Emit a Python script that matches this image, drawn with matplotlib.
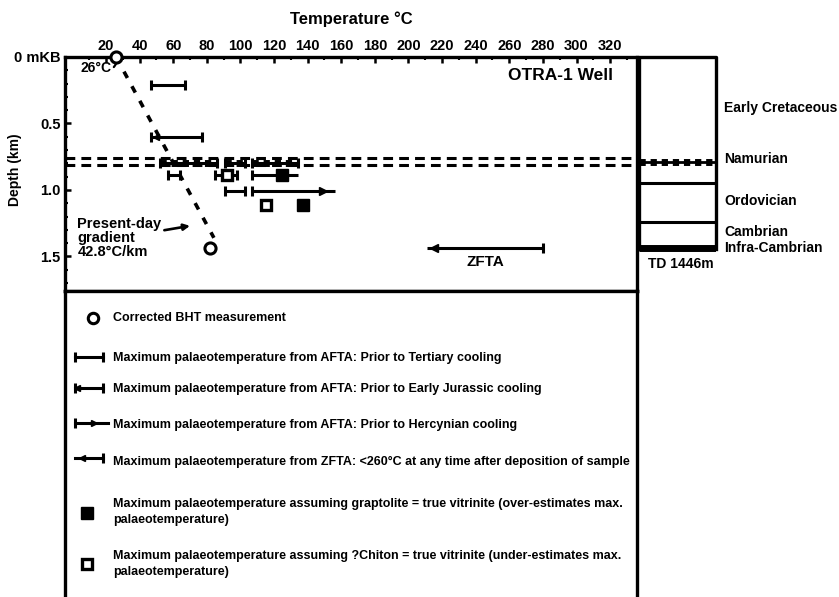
import matplotlib
matplotlib.use('Agg')
import matplotlib.pyplot as plt
import numpy as np

plt.rcParams['font.family'] = ['Liberation Sans', 'DejaVu Sans']
plt.rcParams['font.weight'] = 'bold'

# temperature / depth data, OTRA-1 well
bht_temp = [26, 82]            # corrected BHT, deg C
bht_depth = [0.0, 1.435]       # km
surface_temp = 26
gradient = 42.8                # deg C / km
gradient_end = 1.36

# AFTA maximum palaeotemperature ranges (min, max, depth km)
afta_tertiary = [(47, 67, 0.21), (57, 64, 0.89), (85, 98, 0.89), (91, 103, 1.01)]
afta_jurassic = [(47, 77, 0.60)]
afta_namurian = [(52, 86, 0.80), (91, 103, 0.80), (107, 134, 0.80)]
afta_hercynian = [(107, 134, 0.89), (107, 156, 1.01)]
zfta = [(211, 280, 1.44)]

# vitrinite-derived palaeotemperatures
grapt_temp = [125, 137]
grapt_depth = [0.89, 1.11]
chiton_temp = [92, 115]
chiton_depth = [0.89, 1.11]

# Namurian unconformity (double dashed)
unconf_depths = [0.76, 0.81]

# stratigraphic column
strat_lines = [0.95, 1.24]
namurian_top = 0.79
td_depth = 1.446
strat_names = ['Early Cretaceous', 'Namurian', 'Ordovician', 'Cambrian', 'Infra-Cambrian']
strat_label_depth = [0.38, 0.77, 1.08, 1.32, 1.44]

temp_ticks = list(range(20, 321, 20))
depth_ticks = [0, 0.5, 1.0, 1.5]
depth_labels = ['0 mKB', '0.5', '1.0', '1.5']

legend_texts = [
    'Corrected BHT measurement',
    'Maximum palaeotemperature from AFTA: Prior to Tertiary cooling',
    'Maximum palaeotemperature from AFTA: Prior to Early Jurassic cooling',
    'Maximum palaeotemperature from AFTA: Prior to Hercynian cooling',
    'Maximum palaeotemperature from ZFTA: <260\u00b0C at any time after deposition of sample',
    'Maximum palaeotemperature assuming graptolite = true vitrinite (over-estimates max.\npalaeotemperature)',
    'Maximum palaeotemperature assuming ?Chiton = true vitrinite (under-estimates max.\npalaeotemperature)',
]

W, H = 839, 597
fig = plt.figure(figsize=(W / 100, H / 100), dpi=100)

LW = 2.2
FS_LEG = 9


def bar(ax, t0, t1, d, caps=True, lw=LW):
    ax.plot([t0, t1], [d, d], color='k', lw=lw, solid_capstyle='butt')
    if caps:
        ax.plot([t0, t1], [d, d], ls='none', marker='|', ms=7, mew=lw, color='k')


# ---- main temperature-depth panel
ax = fig.add_axes([65 / W, 1 - 291 / H, 572 / W, 234 / H])
ax.set_xlim(-4.4, 336)
ax.set_ylim(1.76, 0)
ax.xaxis.tick_top()
ax.set_xticks(temp_ticks)
ax.set_xticks(np.arange(10, 336, 10), minor=True)
ax.set_yticks(depth_ticks)
ax.set_yticklabels(depth_labels)
ax.set_yticks(np.arange(0.1, 1.76, 0.1), minor=True)
ax.tick_params(axis='both', which='major', direction='in', length=4, width=1.8,
               labelsize=10.5, pad=3)
ax.tick_params(axis='both', which='minor', direction='in', length=2.5, width=1.5)
for lab in ax.get_xticklabels() + ax.get_yticklabels():
    lab.set_fontweight('bold')
for s in ax.spines.values():
    s.set_linewidth(2.4)
ax.set_xlabel('Temperature \u00b0C', fontsize=12, fontweight='bold', labelpad=11)
ax.xaxis.set_label_position('top')
ax.set_ylabel('Depth (km)', fontsize=10, fontweight='bold')
ax.yaxis.set_label_coords(-0.076, 0.517)

# unconformity
for d in unconf_depths:
    ax.plot([-4.4, 336], [d, d], color='k', lw=2.2, ls=(0, (3.2, 2.0)))

# present-day gradient
g_depth = [0.0, gradient_end]
g_temp = [surface_temp + gradient * z for z in g_depth]
ax.plot(g_temp, g_depth, color='k', lw=2.6, ls=(0, (2.0, 2.6)))

ax.plot(bht_temp, bht_depth, 'o', ms=8, mfc='white', mec='k', mew=2.2, clip_on=False, zorder=5)
ax.annotate('26\u00b0C', xy=(bht_temp[0] + 1, 0.02), xytext=(-16, -6), textcoords='offset points',
            fontsize=10, fontweight='bold', ha='center', va='center',
            arrowprops=dict(arrowstyle='-', lw=1.6, connectionstyle='arc3,rad=0.6',
                            shrinkA=9, shrinkB=3))

for t0, t1, d in afta_tertiary:
    bar(ax, t0, t1, d)
for t0, t1, d in afta_jurassic:
    bar(ax, t0, t1, d)
    ax.plot([t0 + 3], [d], marker='<', ms=5, color='k')
for t0, t1, d in afta_namurian:
    bar(ax, t0, t1, d)
    ax.plot([t0, t1], [d, d], color='k', lw=5, ls=(0, (0.9, 0.7)))
for t0, t1, d in afta_hercynian:
    bar(ax, t0, t1, d, caps=False)
    ax.plot([t0], [d], marker='|', ms=7, mew=LW, color='k')
    ax.plot([t1 - 7], [d], marker='>', ms=6, color='k')
for t0, t1, d in zfta:
    bar(ax, t0, t1, d, caps=False)
    ax.plot([t1], [d], marker='|', ms=7, mew=LW, color='k')
    ax.plot([t0 + 4], [d], marker='<', ms=6, color='k')
ax.text((zfta[0][0] + zfta[0][1]) / 2, zfta[0][2] + 0.1, 'ZFTA', fontsize=11,
        fontweight='bold', ha='center', va='center')

ax.plot(grapt_temp, grapt_depth, 's', ms=8.5, color='k', zorder=5)
ax.plot(chiton_temp, chiton_depth, 's', ms=7.5, mfc='white', mec='k', mew=2.4, zorder=5)

ax.text(322, 0.14, 'OTRA-1 Well', fontsize=12.5, fontweight='bold', ha='right', va='center')
ax.annotate('Present-day\ngradient\n42.8\u00b0C/km', xy=(70, 1.27), xytext=(3, 1.36),
            fontsize=10.5, fontweight='bold', ha='left', va='center', linespacing=1.0,
            arrowprops=dict(arrowstyle='-|>', lw=1.9, color='k', mutation_scale=9,
                            shrinkA=0, shrinkB=0))

# ---- stratigraphic column
axc = fig.add_axes([639 / W, 1 - 291 / H, 77 / W, 234 / H], sharey=ax)
axc.set_xlim(0, 1)
axc.axis('off')
axc.plot([0, 0, 1, 1], [td_depth, 0, 0, td_depth], color='k', lw=2.4, clip_on=False)
for d in strat_lines:
    axc.plot([0, 1], [d, d], color='k', lw=2.2)
axc.plot([0, 1], [namurian_top, namurian_top], color='k', lw=2)
axc.plot([0, 1], [namurian_top, namurian_top], color='k', lw=5, ls=(0, (0.9, 0.7)))
axc.plot([0, 1], [td_depth - 0.01, td_depth - 0.01], color='k', lw=5, solid_capstyle='butt')
for name, d in zip(strat_names, strat_label_depth):
    axc.text(1.11, d, name, fontsize=10, fontweight='bold', ha='left', va='center',
             clip_on=False)
axc.text(0.12, td_depth + 0.11, 'TD 1446m', fontsize=10, fontweight='bold', ha='left',
         va='center')

# ---- legend box (pixel coordinates)
axl = fig.add_axes([65 / W, 0, 572 / W, 306 / H])
axl.set_xlim(65, 637)
axl.set_ylim(597, 291)
axl.set_xticks([])
axl.set_yticks([])
axl.spines['bottom'].set_visible(False)
for s in ['left', 'right', 'top']:
    axl.spines[s].set_linewidth(2.4)

tx = 113
axl.plot(93, 318, 'o', ms=7.5, mfc='white', mec='k', mew=2.2)
axl.text(tx, 318, legend_texts[0], fontsize=FS_LEG, va='center', fontweight='bold')

axl.plot([75, 103], [357, 357], color='k', lw=LW)
axl.plot([75, 103], [357, 357], ls='none', marker='|', ms=7, mew=LW, color='k')
axl.text(tx, 358, legend_texts[1], fontsize=FS_LEG, va='center', fontweight='bold')

axl.plot([75, 103], [388, 388], color='k', lw=LW)
axl.plot([75, 103], [388, 388], ls='none', marker='|', ms=7, mew=LW, color='k')
axl.plot([77], [388], marker='<', ms=4, color='k')
axl.text(tx, 389, legend_texts[2], fontsize=FS_LEG, va='center', fontweight='bold')

axl.plot([75, 108], [423, 423], color='k', lw=LW)
axl.plot([75], [423], marker='|', ms=7, mew=LW, color='k')
axl.plot([94], [423], marker='>', ms=5, color='k')
axl.text(tx, 425, legend_texts[3], fontsize=FS_LEG, va='center', fontweight='bold')

axl.plot([75, 103], [458, 458], color='k', lw=LW)
axl.plot([103], [458], marker='|', ms=7, mew=LW, color='k')
axl.plot([82], [458], marker='<', ms=5, color='k')
axl.text(tx, 462, legend_texts[4], fontsize=FS_LEG, va='center', fontweight='bold')

axl.plot(87, 513, 's', ms=8.5, color='k')
axl.text(tx, 512, legend_texts[5], fontsize=FS_LEG, va='center', fontweight='bold',
         linespacing=1.5)

axl.plot(87, 564, 's', ms=7.5, mfc='white', mec='k', mew=2.4)
axl.text(tx, 564, legend_texts[6], fontsize=FS_LEG, va='center', fontweight='bold',
         linespacing=1.5)

fig.savefig('out.png', dpi=100)
